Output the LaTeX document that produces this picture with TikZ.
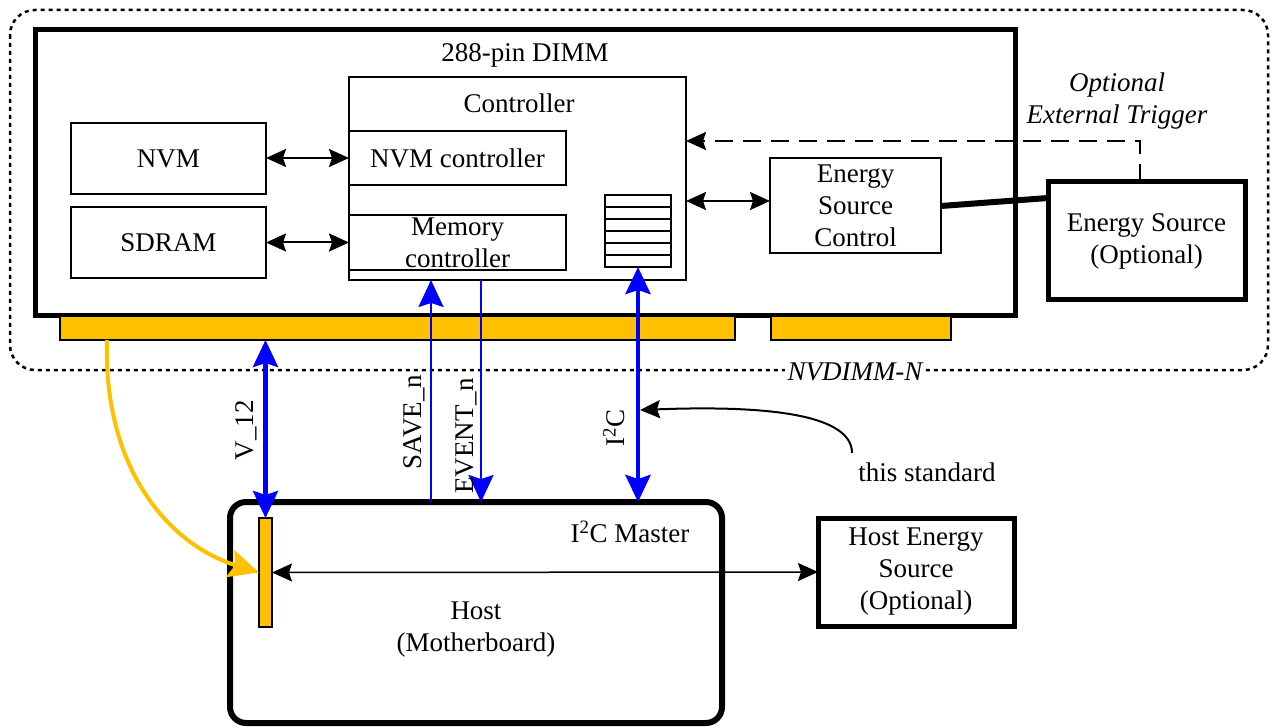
\documentclass[tikz,border=0pt]{standalone}
\usepackage{fontspec}
\setmainfont{Liberation Serif}
\usetikzlibrary{arrows.meta}
\definecolor{gold}{HTML}{FFC000}
\definecolor{sigblue}{HTML}{0000FF}
\tikzset{
  btip/.tip={Stealth[length=27pt,width=25pt,inset=4pt]},
  ktip/.tip={Stealth[length=20pt,width=18pt,inset=3pt]}
}
\begin{document}
\begin{tikzpicture}[x=1pt,y=-1pt,
  txt/.style={font=\fontsize{27}{32}\selectfont, align=center, inner sep=0pt},
  box/.style={draw, line width=2pt, inner sep=0pt, outer sep=0pt, txt},
  bigbox/.style={draw, line width=5pt, inner sep=0pt, outer sep=0pt, txt},
  pins/.style={draw, line width=1.5pt, fill=gold, inner sep=0pt, outer sep=0pt},
  blk/.style={line width=2pt, ktip-ktip},
  sig/.style={draw=sigblue, line width=2.5pt},
  rlabel/.style={txt, rotate=90}
]
\useasboundingbox (0,0) rectangle (1274,727);

% NVDIMM-N outline
\draw[line width=2.5pt, dash pattern=on 4pt off 4pt, rounded corners=25pt] (10,10) rectangle (1268,370);
\node[txt, fill=white, inner sep=3pt, font=\fontsize{27}{32}\selectfont\itshape] (nvdimmlbl) at (855,372) {NVDIMM-N};

% DIMM
\node[bigbox, minimum width=980pt, minimum height=285pt] (dimm) at (525,172.5) {};
\node[txt] (dimmlbl) at (525,55) {288-pin DIMM};

% Controller
\node[box, minimum width=337pt, minimum height=203pt] (ctrl) at (517.5,178.5) {};
\node[txt] (ctrllbl) at (519,103) {Controller};
\node[box, minimum width=217pt, minimum height=54pt] (nvmc) at (457.5,158) {NVM controller};
\node[box, minimum width=217pt, minimum height=55pt] (memc) at (457.5,242.5) {};
\node[txt] (memclbl) at (457.5,242.5) {Memory\\controller};

% register stack
\node[draw, line width=2pt, minimum width=66pt, minimum height=72pt, inner sep=0pt, outer sep=0pt] (stack) at (638,231) {};
\foreach \i in {1,...,5} {
  \draw[line width=2pt] ([yshift=-12pt*\i]stack.north west) -- ([yshift=-12pt*\i]stack.north east);
}

% NVM, SDRAM
\node[box, minimum width=195pt, minimum height=71pt] (nvm) at (168.5,158.5) {NVM};
\node[box, minimum width=195pt, minimum height=71pt] (sdram) at (168.5,242.5) {SDRAM};
\draw[blk] (nvm.east |- nvmc.west) -- (nvmc.west);
\draw[blk] (sdram.east |- memc.west) -- (memc.west);

% Energy source control
\node[box, minimum width=171pt, minimum height=95pt] (esc) at (855.5,205.5) {Energy\\Source\\Control};
\draw[blk] (ctrl.east |- 0,201) -- (esc.west |- 0,201);

% Energy source
\node[bigbox, minimum width=197pt, minimum height=118pt] (es) at (1146.5,241) {Energy Source\\(Optional)};
\draw[line width=6pt] (esc.east |- 0,206) -- (es.west |- 0,198);

% optional trigger
\node[txt, font=\fontsize{27}{32}\selectfont\itshape] (trig) at (1117,101) {Optional\\External Trigger};
\coordinate (trigc) at (1140,141);
\draw[line width=2pt, dash pattern=on 18pt off 10pt, -ktip]
  (es.north -| trigc) -- (trigc) -- (ctrl.east |- trigc);

% connector pins
\node[pins, minimum width=675pt, minimum height=24pt] (pins1) at (397.5,328) {};
\node[pins, minimum width=180pt, minimum height=24pt] (pins2) at (861,328) {};

% Host
\node[draw, line width=6pt, rounded corners=16pt, minimum width=492pt, minimum height=221pt, inner sep=0pt, outer sep=0pt] (host) at (476,612.5) {};
\node[txt] (hostlbl) at (476,630) {Host\\(Motherboard)};
\node[txt] (i2cm) at (630,532) {I\textsuperscript{2}C Master};
\node[pins, minimum width=13pt, minimum height=109pt] (hpin) at (265.5,572.5) {};

% Host energy source
\node[bigbox, minimum width=196pt, minimum height=108pt] (hes) at (916,572) {Host Energy\\Source\\(Optional)};
\draw[line width=1.5pt, ktip-ktip] (hpin.east) -- (hes.west);

% yellow curve
\coordinate (ystart) at (107,340);
\draw[draw=gold, line width=4pt, -{Stealth[length=30pt,width=28pt,inset=5pt,gold]}]
  (ystart) .. controls (103,470) and (170,545) .. (hpin.west);

% signals
\draw[sig, line width=4.5pt, btip-btip] (pins1.south -| hpin.north) -- (hpin.north);
\node[rlabel] (v12) at (246,430) {V\_12};

\coordinate (savex) at (431,0);
\draw[sig, -btip] (host.north -| savex) -- (ctrl.south -| savex);
\node[rlabel] (savelbl) at (414,422) {SAVE\_n};

\coordinate (evx) at (481,0);
\draw[sig, -btip] (ctrl.south -| evx) -- (host.north -| evx);
\node[rlabel] (evlbl) at (466,436) {EVENT\_n};

\draw[sig, line width=4.5pt, btip-btip] (stack.south) -- (host.north -| stack.south);
\node[rlabel] (i2clbl) at (614,428) {I\textsuperscript{2}C};

% this standard
\node[txt] (std) at (927,472) {this standard};
\coordinate (stdtip) at (640,410);
\draw[line width=2pt, -ktip] (852,453) .. controls (852,415) and (770,405) .. (stdtip);
\end{tikzpicture}
\end{document}
